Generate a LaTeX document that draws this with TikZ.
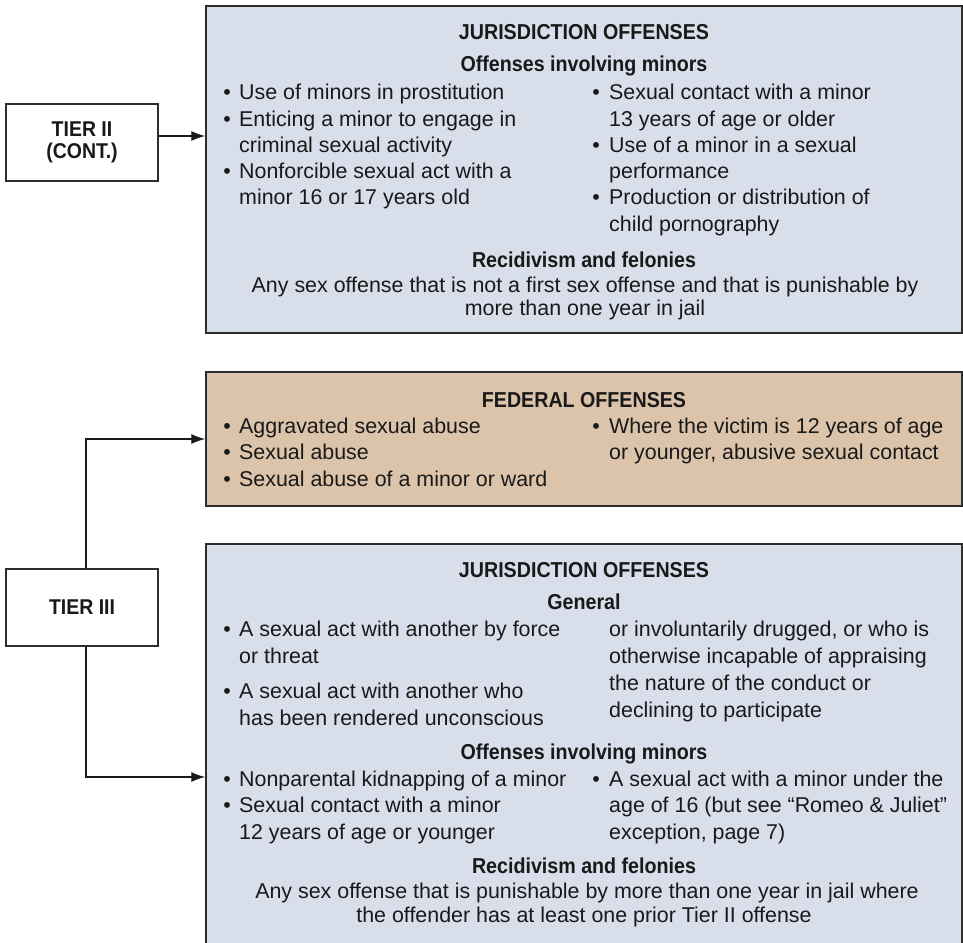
\documentclass[tikz,border=0pt]{standalone}
\usepackage{fontspec}
\setmainfont{Liberation Sans}
\newfontfamily\hdfont[FakeStretch=0.91]{Liberation Sans Bold}
\usetikzlibrary{arrows.meta}
\definecolor{bluefill}{RGB}{217,222,235}
\definecolor{tanfill}{RGB}{220,196,170}
\definecolor{edge}{RGB}{45,45,45}
\definecolor{ink}{RGB}{25,25,25}
\tikzset{
  x=1pt, y=-1pt,
  panel/.style={draw=edge, line width=1.5pt, inner sep=0pt, minimum width=756pt},
  tierbox/.style={draw=edge, line width=1.5pt, fill=white, minimum width=152pt, minimum height=77pt, inner sep=0pt, align=center, text=ink, font=\hdfont\fontsize{21.4}{22}\selectfont},
  txt/.style={anchor=base west, inner sep=0pt, text=ink, font=\fontsize{21.4}{26}\selectfont},
  ctr/.style={anchor=base, inner sep=0pt, text=ink, font=\fontsize{21.4}{26}\selectfont},
  hd/.style={anchor=base, inner sep=0pt, text=ink, font=\hdfont\fontsize{21.6}{26}\selectfont},
  bul/.style={anchor=base, inner sep=0pt, text=ink, font=\fontsize{21.4}{26}\selectfont},
  arr/.style={draw=ink, line width=1.3pt, -{Latex[length=14pt,width=10pt]}},
}
\begin{document}
\begin{tikzpicture}
\useasboundingbox (0,0) rectangle (963,942);
% panels
\node[panel, fill=bluefill, minimum height=327pt] (J1) at (584,169.5) {};
\node[panel, fill=tanfill, minimum height=134pt] (F) at (584,439) {};
\node[panel, fill=bluefill, minimum height=420pt] (J2) at (584,754) {};
% tier boxes
\node[tierbox] (T2) at (82,142.5) {TIER II\\(CONT.)};
\node[tierbox] (T3) at (82,607.5) {TIER III};
% connectors
\draw[arr] ([yshift=6.5pt]T2.east) -- ([yshift=6.5pt]T2.east -| J1.west);
\draw[arr] ([xshift=4pt]T3.north) |- (F.west);
\draw[arr] ([xshift=4pt]T3.south) |- ([yshift=-23pt]J2.west);

% ---- top jurisdiction panel
\node[hd] (j1h) at (584,39.5) {JURISDICTION OFFENSES};
\node[hd] (j1s) at (584,71) {Offenses involving minors};
\node[bul] (j1b1) at (227,99) {•};
\node[txt] (j1l1) at (239,99) {Use of minors in prostitution};
\node[bul] (j1b2) at (227,126) {•};
\node[txt] (j1l2) at (239,126) {Enticing a minor to engage in};
\node[txt] (j1l3) at (239,152) {criminal sexual activity};
\node[bul] (j1b3) at (227,178) {•};
\node[txt] (j1l4) at (239,178) {Nonforcible sexual act with a};
\node[txt] (j1l5) at (239,204) {minor 16 or 17 years old};
\node[bul] (j1b4) at (596,99) {•};
\node[txt] (j1r1) at (609,99) {Sexual contact with a minor};
\node[txt] (j1r2) at (609,126) {13 years of age or older};
\node[bul] (j1b5) at (596,152) {•};
\node[txt] (j1r3) at (609,152) {Use of a minor in a sexual};
\node[txt] (j1r4) at (609,178) {performance};
\node[bul] (j1b6) at (596,204) {•};
\node[txt] (j1r5) at (609,204) {Production or distribution of};
\node[txt] (j1r6) at (609,231) {child pornography};
\node[hd] (j1rh) at (584,267) {Recidivism and felonies};
\node[ctr] (j1c1) at (585,292) {Any sex offense that is not a first sex offense and that is punishable by};
\node[ctr] (j1c2) at (585,315) {more than one year in jail};

% ---- federal panel
\node[hd] (fh) at (584,407) {FEDERAL OFFENSES};
\node[bul] (fb1) at (227,433) {•};
\node[txt] (fl1) at (239,433) {Aggravated sexual abuse};
\node[bul] (fb2) at (227,459) {•};
\node[txt] (fl2) at (239,459) {Sexual abuse};
\node[bul] (fb3) at (227,486) {•};
\node[txt] (fl3) at (239,486) {Sexual abuse of a minor or ward};
\node[bul] (fb4) at (596,433) {•};
\node[txt] (fr1) at (609,433) {Where the victim is 12 years of age};
\node[txt] (fr2) at (609,459) {or younger, abusive sexual contact};

% ---- bottom jurisdiction panel
\node[hd] (j2h) at (584,577) {JURISDICTION OFFENSES};
\node[hd] (j2g) at (584,609) {General};
\node[bul] (j2b1) at (227,636) {•};
\node[txt] (j2l1) at (239,636) {A sexual act with another by force};
\node[txt] (j2l2) at (239,663) {or threat};
\node[bul] (j2b2) at (227,698) {•};
\node[txt] (j2l3) at (239,698) {A sexual act with another who};
\node[txt] (j2l4) at (239,725) {has been rendered unconscious};
\node[txt] (j2r1) at (609,636) {or involuntarily drugged, or who is};
\node[txt] (j2r2) at (609,663) {otherwise incapable of appraising};
\node[txt] (j2r3) at (609,690) {the nature of the conduct or};
\node[txt] (j2r4) at (609,717) {declining to participate};
\node[hd] (j2s) at (584,759) {Offenses involving minors};
\node[bul] (j2b3) at (227,786) {•};
\node[txt] (j2l5) at (239,786) {Nonparental kidnapping of a minor};
\node[bul] (j2b4) at (227,812) {•};
\node[txt] (j2l6) at (239,812) {Sexual contact with a minor};
\node[txt] (j2l7) at (239,839) {12 years of age or younger};
\node[bul] (j2b5) at (596,786) {•};
\node[txt] (j2r5) at (609,786) {A sexual act with a minor under the};
\node[txt] (j2r6) at (609,812) {age of 16 (but see “Romeo \& Juliet”};
\node[txt] (j2r7) at (609,839) {exception, page 7)};
\node[hd] (j2rh) at (584,873) {Recidivism and felonies};
\node[ctr] (j2c1) at (587,898) {Any sex offense that is punishable by more than one year in jail where};
\node[ctr] (j2c2) at (584,922) {the offender has at least one prior Tier II offense};
\end{tikzpicture}
\end{document}
